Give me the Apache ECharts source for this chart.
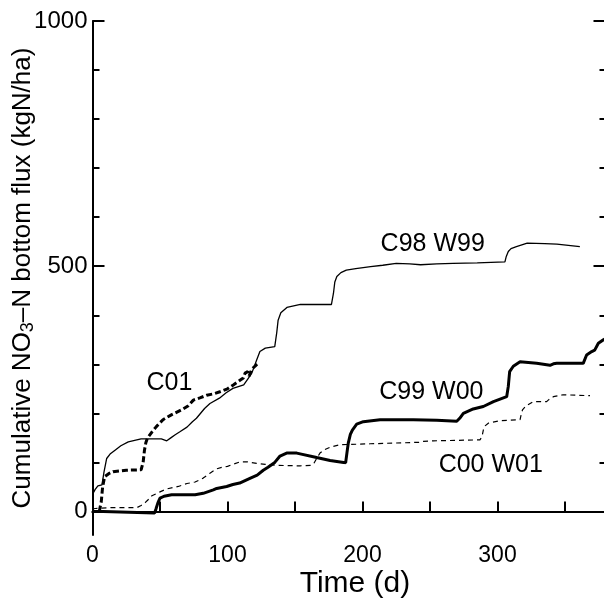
<!DOCTYPE html>
<html>
<head>
<meta charset="utf-8">
<script src="https://cdn.jsdelivr.net/npm/echarts@6/dist/echarts.min.js"></script>
<style>html,body{margin:0;padding:0;background:#fff}#c{width:604px;height:600px}</style>
</head>
<body>
<div id="c"></div>
<script>
// ---- data (days, cumulative kgN/ha) ----
const c98Days = [0,1,2,4,7,8.5,10.5,13,16.7,21,26.5,36,51,55,58,61,65,70,74,77,83,87,94,99,104,112,115,118,121.6,124,128,135,136.5,137.5,139.5,144,154,177,178.5,179.5,181,184,188,195,206,215,225,235,243,255,267,285,305.5,306.5,308,310,314,322,335,344,361];
const c98Vals = [35,40,45,52,54,80,108,117,125,134,142,148,148,144,150,156,163,172,183,190,210,220,231,242,251,258,270,282,309,326,333,336,365,390,405,416,422,422,445,468,479,487,492,495,499,502,506,505,503,505,506,507,509,520,530,536,540,547,546,545,540];

const c01Days = [5,6,6.5,7.5,9,12,15.2,25,36,37.5,38.5,39.5,40.6,44,47.3,52.2,58.4,65.8,70.7,74.7,80,84.6,90,94.4,100,104.3,108,111.7,113,115,116,118,121,123];
const c01Vals = [0,0,20,50,71,77,81,84,85,100,125,140,149,162,173,187,197,207,215,227,232,237,240,244,250,258,265,272,282,285,276,290,298,303];

const c99Days = [0,8,9,46,47,48.5,50,53,58.6,76,80,82,89.5,92,99.4,104,109,117,122,126.5,130,135,138.9,143.8,151.3,166,176,186,187.5,188.5,189.5,191,192.5,195.7,200.6,213,237.6,255,269.8,272,274.7,282,289.5,297,306.8,308,309,311.7,316.7,329,338.9,341.4,343.9,363.5,366,369.8,372,374.7,378.4,380];
const c99Vals = [0,0,-3,-3,5,18,27,31,34,34,36,37,44,47,51,55,58,68,74,84,90,100,113,119,119,110,104,100,99,120,140,157,166,178,183,187,187,186,184,190,200,209,214,224,234,255,285,296,305,302,298,301,302,302,319,326,329,343,350,352];

const c00Days = [0,2,15,33,36,39,42,44,50,55,63.6,70,76,82,87,92,97,100,104,109.3,115,121.6,128,136.4,153.7,162,164,166,168.5,172,176,183.3,205.6,230,242,245,252.4,287,288.5,289.5,291,293.2,301.9,316.7,317.5,318.5,321,326.5,336.4,338,341.4,348.7,368.5];
const c00Vals = [5,6,8,8,12,18,26,32,40,46,51,57,60,68,78,87,91,92,96,101,101,98,96,94,93,94,98,108,119,126,131,136,138,140,141,143,144,146,152,166,175,180,185,187,197,207,215,224,224,228,234,238,236];

const labelTexts = ['C98 W99','C99 W00','C00 W01','C01'];
const labelDays = [252,251,295,57];
const labelVals = [545,244,94,262];

const xLabelTicks = [0,100,200,300];
const xMinorTicks = [50,100,150,200,250,300,350];
const yLabelTicks = [0,500,1000];
const yMinorTicks = [100,200,300,400,600,700,800,900];

// ---- chart ----
const FONT = 'Liberation Sans, Arial, Helvetica, sans-serif';
const zip = (a,b) => a.map((d,i) => [d, b[i]]);
const chart = echarts.init(document.getElementById('c'), null, {renderer:'canvas'});
const axisLine = {show:true, lineStyle:{color:'#000', width:2}};
const yBase = {type:'value', min:-48, max:1000, gridIndex:0, splitLine:{show:false}};
chart.setOption({
  animation:false,
  backgroundColor:'#fff',
  grid:{left:92.5, top:21, width:513, height:514, containLabel:false, outerBoundsMode:'none'},
  xAxis:[
    {type:'value', min:0, max:380, position:'bottom', splitLine:{show:false},
     axisLine: axisLine,
     axisTick:{show:true, inside:true, length:10, customValues:xMinorTicks, lineStyle:{color:'#000', width:2}},
     axisLabel:{show:true, customValues:xLabelTicks, formatter:v => String(v), color:'#000', fontSize:23, fontFamily:FONT, margin:9},
     name:'Time (d)', nameLocation:'middle', nameGap:34, nameMoveOverlap:false,
     nameTextStyle:{color:'#000', fontSize:30, fontFamily:FONT, padding:[0,0,0,12]}},
    {type:'value', min:0, max:380, position:'top', splitLine:{show:false},
     axisLine: axisLine, axisTick:{show:false}, axisLabel:{show:false}}
  ],
  yAxis:[
    Object.assign({}, yBase, {position:'left', axisLine: axisLine,
      axisTick:{show:true, inside:true, length:12, customValues:yLabelTicks, lineStyle:{color:'#000', width:2}},
      axisLabel:{show:true, customValues:yLabelTicks, formatter:v => String(v), color:'#000', fontSize:24, fontFamily:FONT, margin:5},
      name:'{a|Cumulative NO}{s|3}{a|–N bottom flux (kgN/ha)}', nameLocation:'middle', nameRotate:90, nameGap:55, nameMoveOverlap:false,
      nameTextStyle:{color:'#000', fontFamily:FONT,
        rich:{a:{fontSize:26, lineHeight:30, color:'#000', fontFamily:FONT},
              s:{fontSize:18, lineHeight:18, verticalAlign:'bottom', color:'#000', fontFamily:FONT}}}}),
    Object.assign({}, yBase, {position:'left', axisLine:{show:false},
      axisTick:{show:true, inside:true, length:7, customValues:yMinorTicks, lineStyle:{color:'#000', width:2}},
      axisLabel:{show:false}}),
    Object.assign({}, yBase, {position:'right', axisLine: axisLine,
      axisTick:{show:true, inside:true, length:12, customValues:yLabelTicks, lineStyle:{color:'#000', width:2}},
      axisLabel:{show:false}}),
    Object.assign({}, yBase, {position:'right', axisLine:{show:false},
      axisTick:{show:true, inside:true, length:6, customValues:yMinorTicks, lineStyle:{color:'#000', width:2}},
      axisLabel:{show:false}})
  ],
  series:[
    {name:'C98W99', type:'line', data:zip(c98Days,c98Vals), showSymbol:false, symbol:'none',
     lineStyle:{color:'#000', width:1.3}},
    {name:'C01', type:'line', data:zip(c01Days,c01Vals), showSymbol:false, symbol:'none',
     lineStyle:{color:'#000', width:3, type:[6,3]}},
    {name:'C99W00', type:'line', data:zip(c99Days,c99Vals), showSymbol:false, symbol:'none',
     lineStyle:{color:'#000', width:3}},
    {name:'C00W01', type:'line', data:zip(c00Days,c00Vals), showSymbol:false, symbol:'none',
     lineStyle:{color:'#000', width:1.2, type:[5,4]}},
    {name:'labels', type:'scatter', symbolSize:0, silent:true,
     data: labelTexts.map((t,i) => ({value:[labelDays[i], labelVals[i]], name:t})),
     label:{show:true, position:'inside', formatter:'{b}', color:'#000', opacity:1, fontSize:25, fontFamily:FONT}}
  ]
});
</script>
</body>
</html>
